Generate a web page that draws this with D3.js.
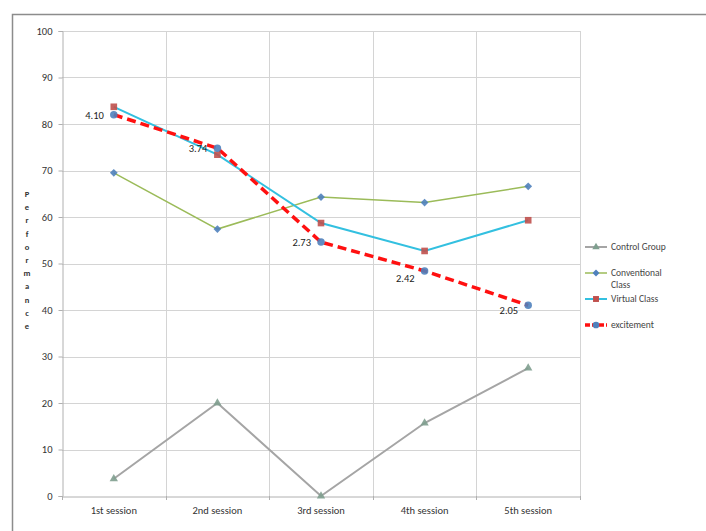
<!DOCTYPE html>
<html><head><meta charset="utf-8">
<script src="https://cdn.jsdelivr.net/npm/d3@7"></script>
<style>body{margin:0;background:#fff}svg{display:block;font-family:Calibri,Carlito,"Liberation Sans",Arial,sans-serif}</style>
</head><body><svg id="c" width="706" height="531"></svg>
<script>
const categories = ["1st session","2nd session","3rd session","4th session","5th session"];
const controlGroup = [3.7, 20, 0, 15.7, 27.5];
const conventionalClass = [69.5, 57.4, 64.3, 63.1, 66.6];
const virtualClass = [83.7, 73.4, 58.7, 52.7, 59.3];
const excitement = [82, 74.8, 54.6, 48.4, 41];
const excitementLabels = ["4.10","3.74","2.73","2.42","2.05"];
const yTicks = [0,10,20,30,40,50,60,70,80,90,100];

const svg = d3.select("#c");
const L = 62, R = 580, T = 31, B = 496;
const x = d3.scaleBand().domain(categories).range([L, R]).padding(0);
const y = d3.scaleLinear().domain([0,100]).range([B, T]);
const cx = d => x(d) + x.bandwidth()/2;

// outer border
svg.append("path").attr("d", `M12.5,531 L12.5,14.5 L706,14.5`).attr("fill","none").attr("stroke","#8c8c8c").attr("stroke-width",1.5);

// gridlines
svg.append("g").selectAll("line").data(yTicks.filter(d=>d>0)).join("line")
  .attr("x1", L).attr("x2", R).attr("y1", d=>Math.round(y(d))+0.5).attr("y2", d=>Math.round(y(d))+0.5)
  .attr("stroke","#d4d4d4");
const bounds = categories.map(c => x(c)).concat([R]);
svg.append("g").selectAll("line").data(bounds.slice(1)).join("line")
  .attr("x1", d=>Math.round(d)+0.5).attr("x2", d=>Math.round(d)+0.5).attr("y1", T).attr("y2", B)
  .attr("stroke","#d4d4d4");

// y axis
const ya = svg.append("g").attr("transform",`translate(${L+0.5},0)`)
  .call(d3.axisLeft(y).tickValues(yTicks).tickSize(4).tickPadding(6));
ya.select(".domain").attr("stroke","#b0b0b0");
ya.selectAll(".tick line").attr("stroke","#b0b0b0");
ya.selectAll("text").attr("font-size",10.5).attr("fill","#333").attr("font-family","Calibri,Carlito,'Liberation Sans',Arial,sans-serif");

// x axis
const xa = svg.append("g").attr("transform",`translate(0,${B+0.5})`)
  .call(d3.axisBottom(x).tickSize(0).tickPadding(10));
xa.select(".domain").attr("stroke","#b0b0b0");
xa.selectAll("text").attr("font-size",10.5).attr("fill","#333").attr("font-family","Calibri,Carlito,'Liberation Sans',Arial,sans-serif");
svg.append("g").selectAll("line").data(bounds).join("line")
  .attr("x1", d=>Math.round(d)+0.5).attr("x2", d=>Math.round(d)+0.5).attr("y1", B).attr("y2", B+4)
  .attr("stroke","#b0b0b0");

// y title stacked letters
const title = "Performance".split("");
svg.append("g").selectAll("text").data(title).join("text")
  .attr("x", 27).attr("y", (d,i)=>197 + i*13.2).attr("text-anchor","middle")
  .attr("font-size",8.5).attr("font-weight","bold").attr("fill","#333").text(d=>d);

const line = d3.line().x((d,i)=>cx(categories[i])).y(d=>y(d));
const series = [
  {name:"Control Group", data:controlGroup, color:"#a5a5a5", w:2, dash:null, marker:"triangle", mc:"#7f9f8f"},
  {name:"Conventional Class", data:conventionalClass, color:"#9bbb59", w:1.5, dash:null, marker:"diamond", mc:"#4f81bd"},
  {name:"Virtual Class", data:virtualClass, color:"#33c0e0", w:2, dash:null, marker:"square", mc:"#c0504d"},
  {name:"excitement", data:excitement, color:"#ff1010", w:3.5, dash:"9,5", marker:"circle", mc:"#4f81bd"}
];
const symType = {triangle:d3.symbolTriangle, diamond:d3.symbolSquare, square:d3.symbolSquare, circle:d3.symbolCircle};
const symSize = {triangle:30, diamond:30, square:44, circle:44};
const symRot = {triangle:0, diamond:45, square:0, circle:0};

series.forEach(s => {
  svg.append("path").datum(s.data).attr("d", line).attr("fill","none")
    .attr("stroke", s.color).attr("stroke-width", s.w).attr("stroke-dasharray", s.dash);
});
series.forEach(s => {
  svg.append("g").selectAll("path").data(s.data).join("path")
    .attr("transform",(d,i)=>`translate(${cx(categories[i])},${y(d)}) rotate(${symRot[s.marker]})`)
    .attr("d", d3.symbol(symType[s.marker], symSize[s.marker])).attr("fill", s.mc).attr("opacity",0.9);
});

// excitement labels
const lblOff = [[-10,4],[-10,4],[-10,4],[-10,11],[-10,9]];
svg.append("g").selectAll("text").data(excitement).join("text")
  .attr("x",(d,i)=>cx(categories[i])+lblOff[i][0]).attr("y",(d,i)=>y(d)+lblOff[i][1])
  .attr("text-anchor","end").attr("font-size",10.5).attr("fill","#222")
  .text((d,i)=>excitementLabels[i]);

// legend
const legY = [247, 273, 299, 325];
series.forEach((s,i) => {
  const g = svg.append("g").attr("transform",`translate(585,${legY[i]})`);
  g.append("line").attr("x1",0).attr("x2",22).attr("y1",0).attr("y2",0)
    .attr("stroke",s.color).attr("stroke-width",s.w).attr("stroke-dasharray", s.dash ? "5,2" : null);
  g.append("path").attr("transform",`translate(11,0) rotate(${symRot[s.marker]})`).attr("d", d3.symbol(symType[s.marker], symSize[s.marker]*0.8)).attr("fill", s.mc);
  const t = g.append("text").attr("x",26).attr("y",3).attr("font-size",9.5).attr("fill","#444");
  if (s.name === "Conventional Class") {
    t.append("tspan").attr("x",26).text("Conventional");
    t.append("tspan").attr("x",26).attr("dy",12).text("Class");
  } else t.text(s.name);
});
</script></body></html>
